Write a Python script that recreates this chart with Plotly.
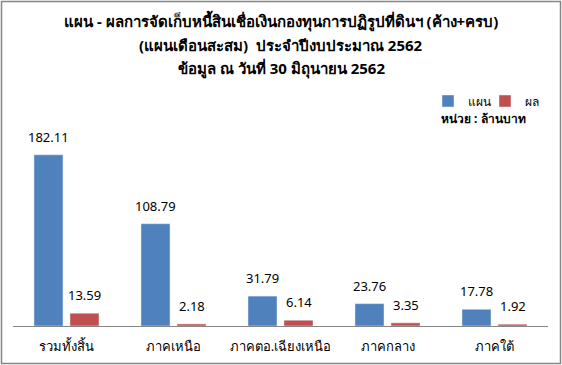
import plotly.graph_objects as go

categories = ["รวมทั้งสิ้น", "ภาคเหนือ", "ภาคตอ.เฉียงเหนือ", "ภาคกลาง", "ภาคใต้"]
plan = [182.11, 108.79, 31.79, 23.76, 17.78]
result = [13.59, 2.18, 6.14, 3.35, 1.92]
title_lines = [
    "แผน - ผลการจัดเก็บหนี้สินเชื่อเงินกองทุนการปฏิรูปที่ดินฯ (ค้าง+ครบ)",
    "(แผนเดือนสะสม)  ประจำปีงบประมาณ 2562",
    "ข้อมูล ณ วันที่ 30 มิถุนายน 2562",
]
unit_label = "หน่วย : ล้านบาท"

FONT = "Tahoma, 'Noto Sans', 'DejaVu Sans', sans-serif"

W, H = 562, 365
L, R, T, B = 13, 14, 138, 39
pw, ph = W - L - R, H - T - B

fig = go.Figure()
fig.add_trace(go.Bar(x=categories, y=plan, name="แผน", marker_color="#4F81BD", cliponaxis=False))
fig.add_trace(go.Bar(x=categories, y=result, name="ผล", marker_color="#C0504D", cliponaxis=False))

annotations = []
# value labels above bars
for series, xs in ((plan, -18), (result, 18)):
    for c, v in zip(categories, series):
        annotations.append(dict(x=c, y=v, xref="x", yref="y", text=f"{v:.2f}",
                                showarrow=False, xshift=xs, yshift=7, yanchor="bottom",
                                font=dict(size=13, color="black")))
# title lines
for i, line in enumerate(title_lines):
    annotations.append(dict(text=f"<b>{line}</b>", xref="paper", yref="paper",
                            x=(281 - L) / pw, xanchor="center",
                            y=1 + (T - (21 + 24 * i)) / ph, yanchor="middle",
                            showarrow=False, font=dict(size=15, color="black")))
annotations.append(dict(text=f"<b>{unit_label}</b>", xref="paper", yref="paper",
                        x=(528 - L) / pw, xanchor="right", y=1 + (T - 118) / ph, yanchor="middle",
                        showarrow=False, font=dict(size=12)))

fig.update_layout(
    width=W, height=H,
    margin=dict(l=L, r=R, t=T, b=B, autoexpand=False),
    paper_bgcolor="white", plot_bgcolor="white",
    font=dict(family=FONT, size=12, color="black"),
    barmode="group", bargap=0.327, bargroupgap=0.194,
    showlegend=True,
    legend=dict(orientation="h", x=(428 - L) / pw, xanchor="left", y=1.0 + (T - 101) / ph, yanchor="middle",
                font=dict(size=12), bgcolor="rgba(0,0,0,0)", entrywidth=12, entrywidthmode="pixels"),
    xaxis=dict(showline=True, linecolor="#868686", linewidth=1, ticks="",
               tickfont=dict(size=13), showgrid=False, ticklabelstandoff=8),
    yaxis=dict(range=[0, 200], visible=False, showgrid=False),
    annotations=annotations,
    shapes=[dict(type="rect", xref="paper", yref="paper",
                 x0=(1.5 - L) / pw, x1=(W - 1.5 - L) / pw,
                 y0=-(B - 1.5) / ph, y1=1 + (T - 1.5) / ph,
                 line=dict(color="#868686", width=1.5), fillcolor="rgba(0,0,0,0)")],
)

fig.write_html("out.html", config={"displayModeBar": False},
               post_script="document.body.style.margin='0';document.body.style.overflow='hidden';")
